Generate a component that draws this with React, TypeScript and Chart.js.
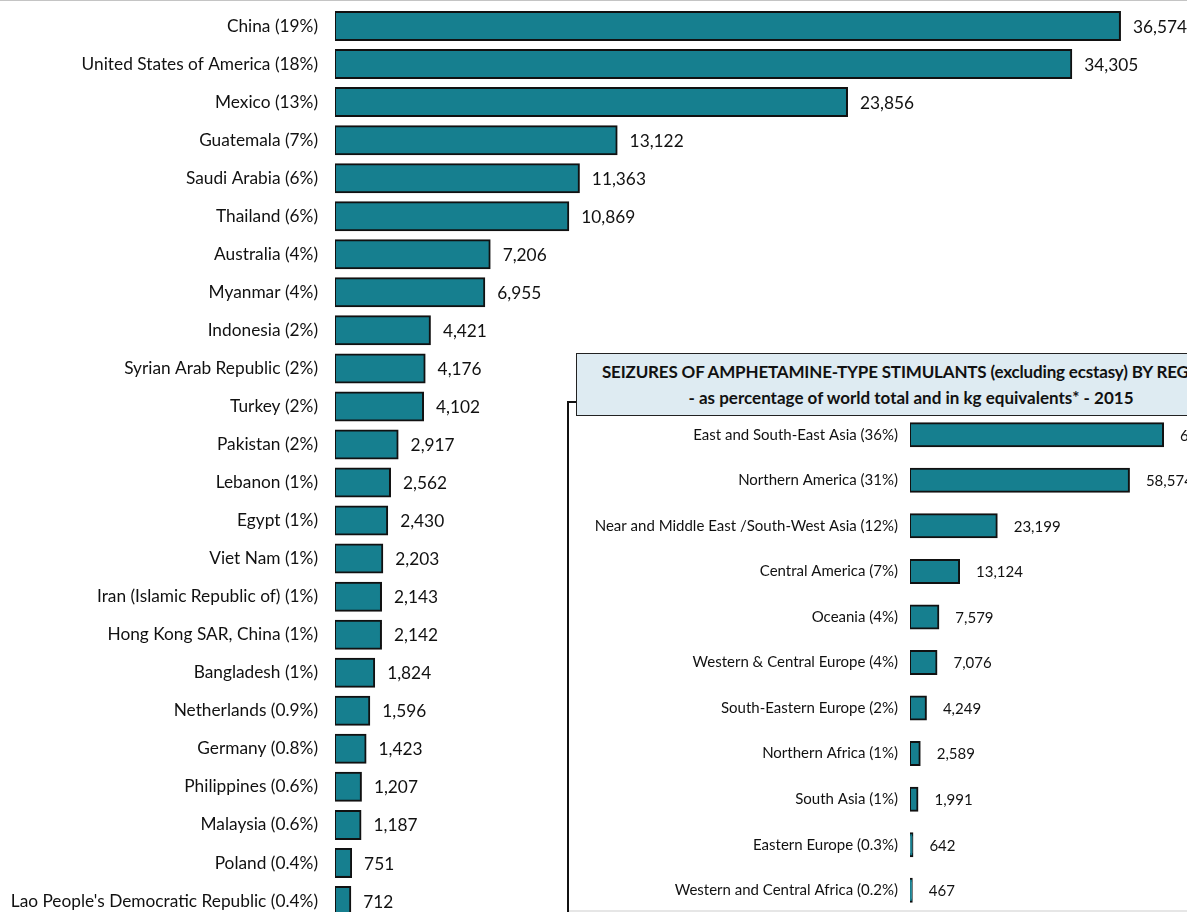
import { useEffect, useRef } from "react";
import { Chart, registerables } from "chart.js";

Chart.register(...registerables);

const countries = [
  "China (19%)",
  "United States of America (18%)",
  "Mexico (13%)",
  "Guatemala (7%)",
  "Saudi Arabia (6%)",
  "Thailand (6%)",
  "Australia (4%)",
  "Myanmar (4%)",
  "Indonesia (2%)",
  "Syrian Arab Republic (2%)",
  "Turkey (2%)",
  "Pakistan (2%)",
  "Lebanon (1%)",
  "Egypt (1%)",
  "Viet Nam (1%)",
  "Iran (Islamic Republic of) (1%)",
  "Hong Kong SAR, China (1%)",
  "Bangladesh (1%)",
  "Netherlands (0.9%)",
  "Germany (0.8%)",
  "Philippines (0.6%)",
  "Malaysia (0.6%)",
  "Poland (0.4%)",
  "Lao People's Democratic Republic (0.4%)",
];
const countryValues = [
  36574, 34305, 23856, 13122, 11363, 10869, 7206, 6955, 4421, 4176, 4102, 2917,
  2562, 2430, 2203, 2143, 2142, 1824, 1596, 1423, 1207, 1187, 751, 712,
];

const regions = [
  "East and South-East Asia (36%)",
  "Northern America (31%)",
  "Near and Middle East /South-West Asia (12%)",
  "Central America (7%)",
  "Oceania (4%)",
  "Western & Central Europe (4%)",
  "South-Eastern Europe (2%)",
  "Northern Africa (1%)",
  "South Asia (1%)",
  "Eastern Europe (0.3%)",
  "Western and Central Africa (0.2%)",
];
const regionValues = [67700, 58574, 23199, 13124, 7579, 7076, 4249, 2589, 1991, 642, 467];

const insetTitleLines = [
  "SEIZURES OF AMPHETAMINE-TYPE STIMULANTS (excluding ecstasy) BY REGION",
  "- as percentage of world total and in kg equivalents* - 2015",
];

const FONT = "Lato, 'Open Sans', sans-serif";
const BAR_COLOR = "#167F8F";
const TEXT_COLOR = "#111111";

type Cfg = {
  labels: string[];
  values: number[];
  max: number;
  axisWidth: number;
  padding: { top: number; bottom: number; right: number; left: number };
  catPct: number;
  fontSize: number;
  gap: number;
  tickPad: number;
};

function makeChart(canvas: HTMLCanvasElement, c: Cfg) {
  const valueLabels = {
    id: "valueLabels",
    afterDatasetsDraw(chart: any) {
      const ctx = chart.ctx;
      const meta = chart.getDatasetMeta(0);
      ctx.save();
      ctx.font = `${c.fontSize}px ${FONT}`;
      ctx.fillStyle = TEXT_COLOR;
      ctx.textAlign = "left";
      ctx.textBaseline = "middle";
      meta.data.forEach((el: any, i: number) => {
        const v = chart.data.datasets[0].data[i] as number;
        ctx.fillText(v.toLocaleString("en-US"), el.x + c.gap, el.y + 1);
      });
      ctx.restore();
    },
  };
  return new Chart(canvas, {
    type: "bar",
    data: {
      labels: c.labels,
      datasets: [
        {
          data: c.values,
          backgroundColor: BAR_COLOR,
          borderColor: "#111111",
          borderWidth: 2,
          borderSkipped: false,
          inflateAmount: 1,
          barPercentage: 1,
          categoryPercentage: c.catPct,
        },
      ],
    },
    options: {
      indexAxis: "y",
      responsive: false,
      animation: false,
      devicePixelRatio: 1,
      layout: { padding: c.padding },
      plugins: {
        legend: { display: false },
        tooltip: { enabled: false },
        title: { display: false },
      },
      scales: {
        x: {
          display: false,
          min: 0,
          max: c.max,
        },
        y: {
          grid: { display: false, drawTicks: false },
          border: { display: false },
          ticks: {
            autoSkip: false,
            padding: c.tickPad,
            color: TEXT_COLOR,
            font: { family: FONT, size: c.fontSize },
          },
          afterFit(scale: any) {
            scale.width = c.axisWidth;
            scale.paddingTop = 0;
            scale.paddingBottom = 0;
          },
        },
      },
    },
    plugins: [valueLabels],
  });
}

export default function App() {
  const mainRef = useRef<HTMLCanvasElement>(null);
  const insetRef = useRef<HTMLCanvasElement>(null);

  useEffect(() => {
    const main = makeChart(mainRef.current!, {
      labels: countries,
      values: countryValues,
      max: 39000,
      axisWidth: 335,
      padding: { top: 7, bottom: 10, right: 15, left: 0 },
      catPct: 0.736,
      fontSize: 17.3,
      gap: 13,
      tickPad: 17,
    });
    const inset = makeChart(insetRef.current!, {
      labels: regions,
      values: regionValues,
      max: 80000,
      axisWidth: 343,
      padding: { top: 11, bottom: 8, right: 51, left: 0 },
      catPct: 0.505,
      fontSize: 15,
      gap: 17,
      tickPad: 12,
    });
    return () => {
      main.destroy();
      inset.destroy();
    };
  }, []);

  return (
    <div
      style={{
        position: "absolute",
        left: 0,
        top: 0,
        width: 1187,
        height: 912,
        overflow: "hidden",
        background: "#ffffff",
      }}
    >
      <canvas
        ref={mainRef}
        width={1187}
        height={930}
        style={{ position: "absolute", left: 0, top: 0 }}
      />
      <div
        style={{
          position: "absolute",
          left: 567,
          top: 401,
          width: 700,
          height: 520,
          background: "#ffffff",
          borderLeft: "2px solid #111",
          borderTop: "2px solid #111",
          boxSizing: "border-box",
        }}
      />
      <canvas
        ref={insetRef}
        width={693}
        height={520}
        style={{ position: "absolute", left: 567, top: 401 }}
      />
      <div
        style={{
          position: "absolute",
          left: 576,
          top: 353,
          width: 670,
          height: 63,
          background: "#DEEBF2",
          border: "1.5px solid #222",
          boxSizing: "border-box",
          display: "flex",
          flexDirection: "column",
          justifyContent: "center",
          alignItems: "center",
          fontFamily: FONT,
          fontWeight: 700,
          fontSize: 17,
          lineHeight: "26px",
          color: TEXT_COLOR,
          whiteSpace: "nowrap",
        }}
      >
        {insetTitleLines.map((t, i) => (
          <div key={t} style={{ letterSpacing: i === 0 ? "-0.17px" : "0px" }}>
            {t}
          </div>
        ))}
      </div>
      <div
        style={{
          position: "absolute",
          left: 0,
          top: 0,
          width: 1187,
          height: 1,
          background: "#c4c4c4",
        }}
      />
      <div
        style={{
          position: "absolute",
          left: 569,
          top: 910,
          width: 620,
          height: 2,
          background: "#e6e6e6",
        }}
      />
    </div>
  );
}
